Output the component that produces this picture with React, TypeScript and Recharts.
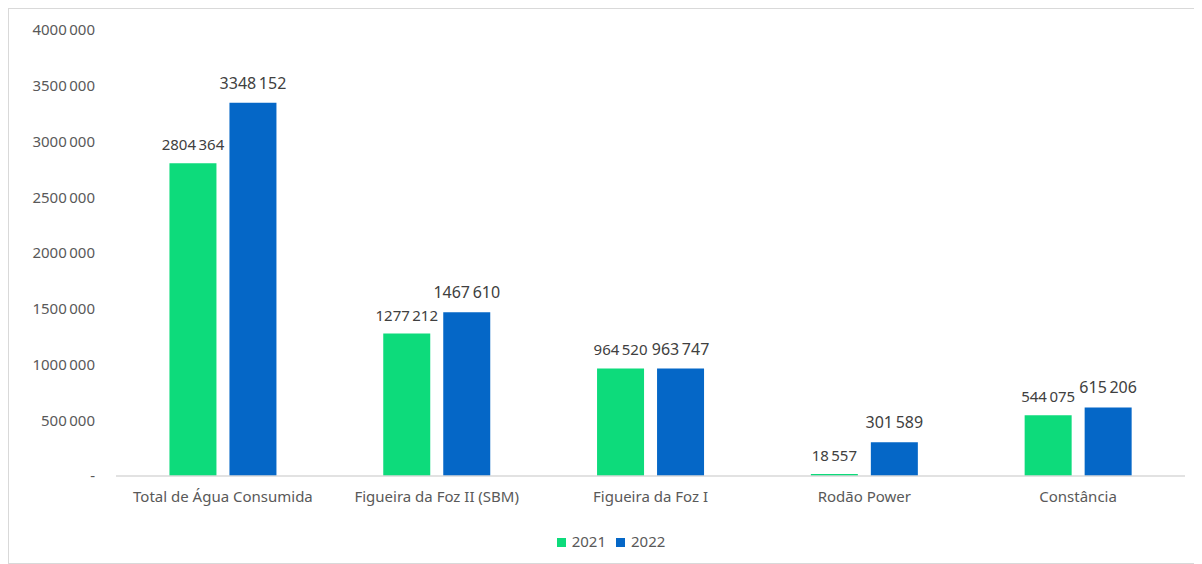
import React from "react";
import { BarChart, Bar, XAxis, YAxis, Legend, LabelList } from "recharts";

const categories = [
  "Total de Água Consumida",
  "Figueira da Foz II (SBM)",
  "Figueira da Foz I",
  "Rodão Power",
  "Constância",
];
const values2021 = [2804364, 1277212, 964520, 18557, 544075];
const values2022 = [3348152, 1467610, 963747, 301589, 615206];
const yTicks = [0, 500000, 1000000, 1500000, 2000000, 2500000, 3000000, 3500000, 4000000];

const data = categories.map((name, i) => ({
  name,
  y2021: values2021[i],
  y2022: values2022[i],
}));

const fmt = (v: number) => {
  if (v === 0) return "-";
  const hi = Math.floor(v / 1000);
  const lo = v % 1000;
  return `${hi}\u2009${String(lo).padStart(3, "0")}`;
};

const FONT = "'Noto Sans', 'Open Sans', sans-serif";

const makeLabel = (fontSize: number, gap: number) => (props: any) => {
  const { x, y, width, value } = props;
  return (
    <text
      x={Number(x) + Number(width) / 2}
      y={Number(y) - gap}
      textAnchor="middle"
      fill="#404040"
      fontSize={fontSize}
      fontFamily={FONT}
    >
      {fmt(Number(value))}
    </text>
  );
};

export default function App() {
  return (
    <div
      style={{
        width: 1190,
        height: 554,
        border: "1px solid #d9d9d9",
        background: "#fff",
        fontFamily: FONT,
      }}
    >
      <BarChart
        width={1190}
        height={554}
        data={data}
        margin={{ top: 21, right: 14, left: 0, bottom: 12 }}
        barCategoryGap="25%"
        barGap={13}
      >
        <XAxis
          dataKey="name"
          tickLine={false}
          tickSize={0}
          tickMargin={15}
          height={55}
          axisLine={{ stroke: "#d9d9d9", strokeWidth: 1.5 }}
          tick={{ fill: "#595959", fontSize: 15, fontFamily: FONT }}
          interval={0}
        />
        <YAxis
          width={107}
          domain={[0, 4000000]}
          ticks={yTicks}
          tickFormatter={fmt}
          axisLine={false}
          tickLine={false}
          tickSize={0}
          tickMargin={21}
          tick={{ fill: "#595959", fontSize: 15, fontFamily: FONT }}
        />
        <Legend
          verticalAlign="bottom"
          iconType="square"
          iconSize={9}
          wrapperStyle={{ fontSize: 15, color: "#595959", fontFamily: FONT, lineHeight: "20px", paddingLeft: 19 }}
          formatter={(value: string) => <span style={{ color: "#595959", marginLeft: 2 }}>{value}</span>}
        />
        <Bar dataKey="y2021" name="2021" fill="#0ddb7b" isAnimationActive={false}>
          <LabelList dataKey="y2021" content={makeLabel(15, 13)} />
        </Bar>
        <Bar dataKey="y2022" name="2022" fill="#0567c7" isAnimationActive={false}>
          <LabelList dataKey="y2022" content={makeLabel(16, 14)} />
        </Bar>
      </BarChart>
    </div>
  );
}
